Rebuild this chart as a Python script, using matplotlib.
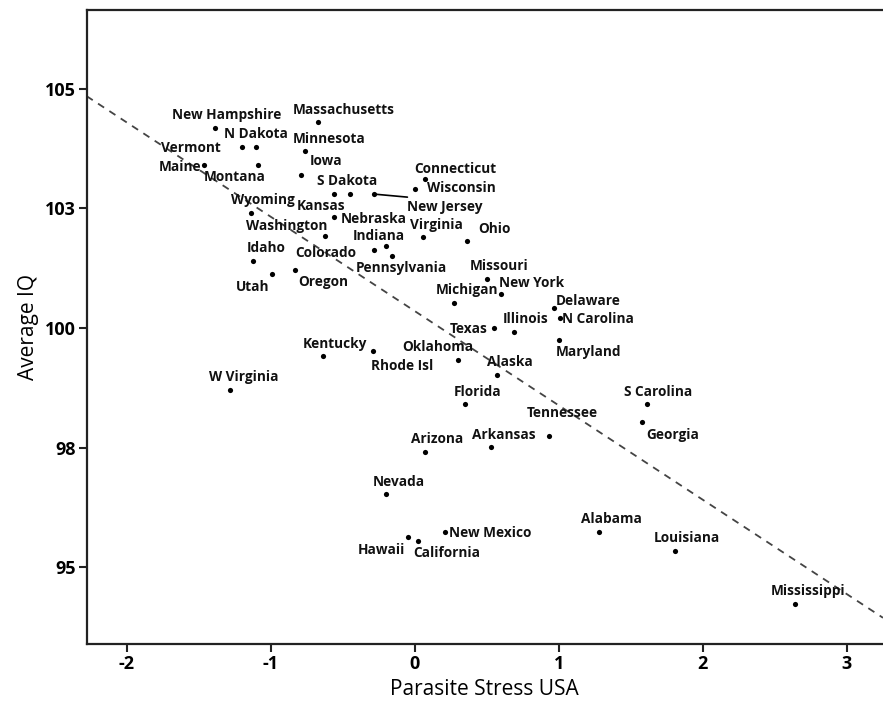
import numpy as np
import matplotlib
matplotlib.use("Agg")
import matplotlib.pyplot as plt

states = ["New Hampshire", "Massachusetts", "N Dakota", "Vermont", "Minnesota", "Maine",
          "Montana", "Iowa", "S Dakota", "Kansas", "New Jersey", "Connecticut", "Wisconsin",
          "Wyoming", "Nebraska", "Washington", "Virginia", "Indiana", "Colorado", "Pennsylvania",
          "Ohio", "Idaho", "Utah", "Oregon", "Missouri", "New York", "Michigan", "Delaware",
          "N Carolina", "Illinois", "Texas", "Maryland", "Kentucky", "Rhode Isl", "Oklahoma",
          "Alaska", "W Virginia", "Florida", "S Carolina", "Tennessee", "Georgia", "Arizona",
          "Arkansas", "Nevada", "Alabama", "New Mexico", "Hawaii", "California", "Louisiana",
          "Mississippi"]

parasite_stress = [-1.39, -0.67, -1.10, -1.20, -0.76, -1.46,
                   -1.09, -0.79, -0.45, -0.56, -0.28, 0.07, 0.00,
                   -1.14, -0.56, -0.62, 0.06, -0.20, -0.28, -0.16,
                   0.36, -1.12, -0.99, -0.83, 0.50, 0.60, 0.27, 0.97,
                   1.01, 0.69, 0.55, 1.00, -0.64, -0.29, 0.30,
                   0.57, -1.28, 0.35, 1.61, 0.93, 1.58, 0.07,
                   0.53, -0.20, 1.28, 0.21, -0.05, 0.02, 1.81,
                   2.64]

average_iq = [104.19, 104.30, 103.79, 103.79, 103.70, 103.40,
              103.40, 103.19, 102.80, 102.80, 102.80, 103.11, 102.91,
              102.41, 102.33, 101.92, 101.90, 101.72, 101.63, 101.51,
              101.82, 101.41, 101.13, 101.21, 101.03, 100.71, 100.52, 100.41,
              100.22, 99.92, 100.01, 99.75, 99.42, 99.52, 99.33,
              99.02, 98.70, 98.42, 98.42, 97.74, 98.03, 97.41,
              97.52, 96.53, 95.73, 95.74, 95.63, 95.54, 95.33,
              94.24]

x_ticks = [-2, -1, 0, 1, 2, 3]
y_ticks = [95, 97.5, 100, 102.5, 105]
y_tick_labels = ["95", "98", "100", "103", "105"]

# label offsets (pixels) relative to each point
label_offsets = {
    "New Hampshire": (12, -13), "Massachusetts": (25, -12), "N Dakota": (0, -13),
    "Vermont": (-51, 1), "Minnesota": (24, -12), "Maine": (-24, 2), "Montana": (-23, 12),
    "Iowa": (25, -14), "S Dakota": (-3, -13), "Kansas": (-13, 12), "New Jersey": (70, 13),
    "Connecticut": (31, -10), "Wisconsin": (47, -1), "Wyoming": (12, -13),
    "Nebraska": (40, 2), "Washington": (-39, -10), "Virginia": (13, -12),
    "Indiana": (-7, -10), "Colorado": (-49, 3), "Pennsylvania": (10, 12), "Ohio": (28, -12),
    "Idaho": (13, -13), "Utah": (-20, 13), "Oregon": (28, 12), "Missouri": (12, -13),
    "New York": (30, -11), "Michigan": (13, -13), "Delaware": (34, -7),
    "N Carolina": (38, 1), "Illinois": (12, -13), "Texas": (-25, 1), "Maryland": (30, 12),
    "Kentucky": (12, -12), "Rhode Isl": (29, 15), "Oklahoma": (-20, -13),
    "Alaska": (13, -13), "W Virginia": (13, -13), "Florida": (12, -12),
    "S Carolina": (12, -12), "Tennessee": (14, -23), "Georgia": (30, 13),
    "Arizona": (12, -13), "Arkansas": (13, -12), "Nevada": (13, -12), "Alabama": (12, -13),
    "New Mexico": (45, 1), "Hawaii": (-26, 13), "California": (29, 12),
    "Louisiana": (12, -13), "Mississippi": (13, -13),
}

fig = plt.figure(figsize=(8.83, 7.10), dpi=100)
ax = fig.add_axes([0.0982, 0.0934, 0.9018, 0.8925])

ax.scatter(parasite_stress, average_iq, s=14, color="black", zorder=3, linewidths=0)

xlim = (-2.278, 3.252)
ylim = (93.40, 106.65)
ax.set_xlim(*xlim)
ax.set_ylim(*ylim)

slope, intercept = np.polyfit(parasite_stress, average_iq, 1)
xs = np.array(xlim)
ax.plot(xs, intercept + slope * xs, linestyle=(0, (4, 3.5)), color="#444444", lw=1.3, zorder=2)

for name, xv, yv in zip(states, parasite_stress, average_iq):
    dx, dy = label_offsets[name]
    ax.annotate(name, (xv, yv), xytext=(dx, -dy), textcoords="offset pixels",
                ha="center", va="center", fontsize=9.8, fontweight="bold",
                family="Open Sans", color="#111111", zorder=4)

# New Jersey connector
nj = states.index("New Jersey")
ax.annotate("", (parasite_stress[nj], average_iq[nj]), xytext=(33, -3),
            textcoords="offset pixels",
            arrowprops=dict(arrowstyle="-", color="black", lw=1.2, shrinkA=0, shrinkB=0))

ax.set_xticks(x_ticks)
ax.set_xticklabels([str(t) for t in x_ticks])
ax.set_yticks(y_ticks)
ax.set_yticklabels(y_tick_labels)
for lab in ax.get_xticklabels() + ax.get_yticklabels():
    lab.set_fontweight("bold")
    lab.set_family("Open Sans")
    lab.set_fontsize(13)

ax.tick_params(direction="out", length=6, width=1.5, color="#222222", pad=2)
for side in ["left", "bottom", "top"]:
    ax.spines[side].set_linewidth(1.6)
    ax.spines[side].set_color("#222222")
ax.spines["right"].set_visible(False)

ax.set_xlabel("Parasite Stress USA", fontsize=15, family="Open Sans")
ax.set_ylabel("Average IQ", fontsize=15, family="Open Sans")
ax.xaxis.set_label_coords(0.5, -0.073)
ax.yaxis.set_label_coords(-0.0737, 0.5)
ax.xaxis.label.set_va("center")
ax.yaxis.label.set_va("center")

fig.savefig("out.png", dpi=100)
